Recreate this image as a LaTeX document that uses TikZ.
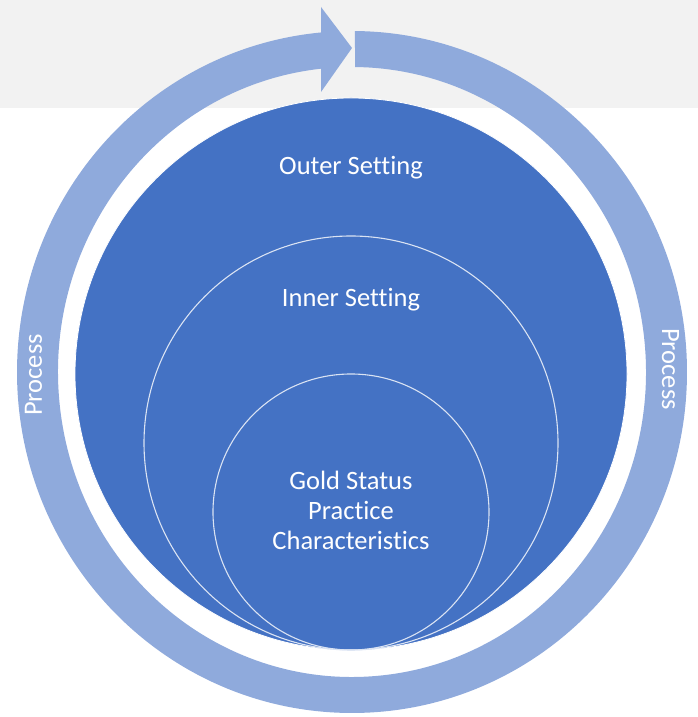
\documentclass[tikz,border=0pt]{standalone}
\usepackage{fontspec}
\setmainfont{Carlito}[Ligatures=NoCommon]
\usetikzlibrary{calc}
\definecolor{bandgray}{HTML}{F2F2F2}
\definecolor{ringblue}{HTML}{8FAADC}
\definecolor{discblue}{HTML}{4472C4}
\tikzset{
  circline/.style={draw=white!80!discblue, line width=1.1pt},
  lbl/.style={text=white, font=\fontsize{26.5}{30}\selectfont, inner sep=0pt, anchor=base},
}

\begin{document}
\begin{tikzpicture}[x=1pt,y=1pt]
  \useasboundingbox (0,0) rectangle (698,717);
  \fill[bandgray] (0,609) rectangle (698,717);

  \coordinate (c) at (352,345);
  % process arrow round the circles
  \fill[ringblue] ($(c)+(89.5:335 and 341)$)
      arc[start angle=89.5, end angle=-264.7, x radius=335, y radius=341]
      -- (321,710) -- (352,669) -- (321,625)
      -- ($(c)+(-263.95:294 and 305)$)
      arc[start angle=-263.95, end angle=89.4, x radius=294, y radius=305]
      -- cycle;

  % settings
  \filldraw[fill=discblue, draw=white, line width=0.8pt] (351,343) circle (276);
  \draw[circline] (351,274) circle (207);
  \draw[circline] (351,205) circle (138);

  \node[lbl] (outer) at (351,542) {Outer Setting};
  \node[lbl] (inner) at (351,410) {Inner Setting};
  \node[lbl] (gold) at (351,227) {Gold Status};
  \node[lbl] (practice) at (351,197) {Practice};
  \node[lbl] (chars) at (351,167) {Characteristics};

  \node[lbl, rotate=90] (procleft) at (42,342) {Process};
  \node[lbl, rotate=-90] (procright) at (662,348) {Process};
\end{tikzpicture}
\end{document}
